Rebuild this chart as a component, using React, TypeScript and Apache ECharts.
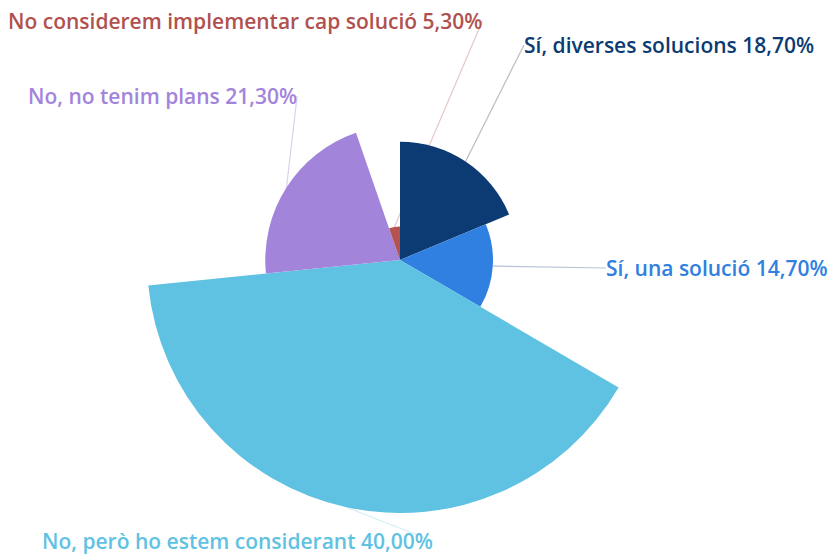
import React, { useEffect, useRef } from "react";
import * as echarts from "echarts";

const categories = [
  "Sí, diverses solucions",
  "Sí, una solució",
  "No, però ho estem considerant",
  "No, no tenim plans",
  "No considerem implementar cap solució",
];
const values = [18.7, 14.7, 40.0, 21.3, 5.3];
const sliceColors = ["#0c3a72", "#2f80e0", "#5fc2e2", "#a384db", "#b5534f"];
const labelColors = ["#0c3a72", "#2f80e0", "#5fc2e2", "#a384db", "#b0514f"];
const lineColors = ["#b9bcc4", "#b8c4d6", "#d4eef6", "#d9d2ee", "#e6c8c6"];
const labelPos = [
  [524, 45],
  [606, 268],
  [42, 541],
  [28, 96],
  [8, 21],
];

export default function App() {
  const ref = useRef<HTMLDivElement>(null);
  useEffect(() => {
    const chart = echarts.init(ref.current!, null, { renderer: "svg" });
    chart.setOption({
      animation: false,
      backgroundColor: "#ffffff",
      series: [
        {
          type: "pie",
          roseType: "radius",
          center: [400, 260],
          radius: [0, 253],
          startAngle: 90,
          clockwise: true,
          avoidLabelOverlap: false,
          data: categories.map((name, i) => ({
            name,
            value: values[i],
            itemStyle: { color: sliceColors[i] },
            label: { color: labelColors[i] },
            labelLine: { lineStyle: { color: lineColors[i] } },
          })),
          label: {
            show: true,
            formatter: (p: any) =>
              `${p.name} ${Number(p.value).toFixed(2).replace(".", ",")}%`,
            fontFamily: "Open Sans",
            fontWeight: 600,
            fontSize: 21,
          },
          labelLine: {
            show: true,
            length2: 0,
            lineStyle: { width: 1.2 },
          },
          labelLayout: (params: any) => ({
            x: labelPos[params.dataIndex][0],
            y: labelPos[params.dataIndex][1],
            align: "left",
            verticalAlign: "middle",
          }),
        },
      ],
    });
    return () => chart.dispose();
  }, []);
  return (
    <div
      ref={ref}
      style={{ position: "fixed", left: 0, top: 0, width: 829, height: 554 }}
    />
  );
}
